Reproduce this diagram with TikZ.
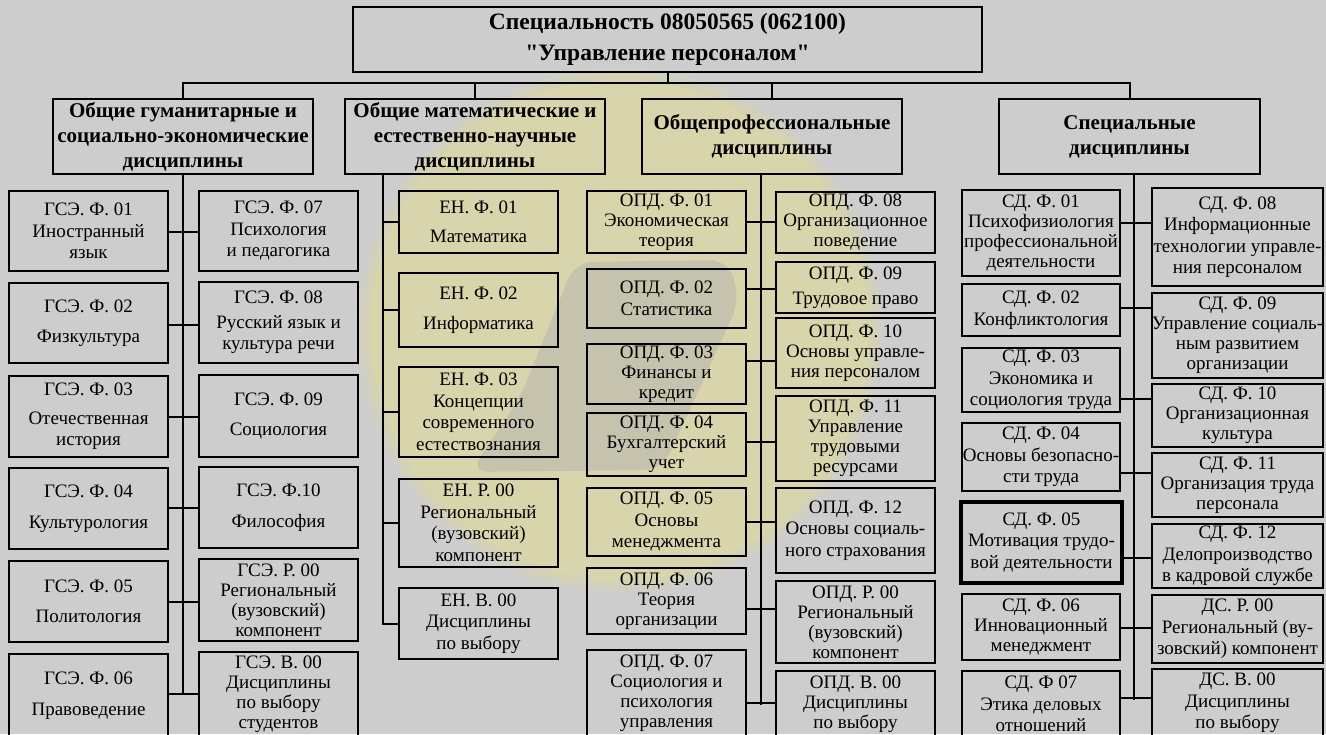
\documentclass[tikz,border=0pt]{standalone}
\usepackage{fontspec}
\setmainfont{Liberation Serif}[Ligatures=TeXOff]
\definecolor{bg}{RGB}{205,205,205}
\definecolor{logoyellow}{RGB}{216,212,172}
\definecolor{logogrey}{RGB}{176,176,176}
% box: [style]{x1}{y1}{x2}{y2}{name}{text}
\newcommand\bx[7][]{%
  \node[box,#1,minimum width={#4-#2},minimum height={#5-#3}] (#6)
    at ({(#2+#4)/2},{(#3+#5)/2}) {#7};}
% horizontal link between a left and a right box at height y
\newcommand\lnk[3]{\draw (#1.east |- 0,#3) -- (#2.west |- 0,#3);}
\begin{document}
\begin{tikzpicture}[x=1pt,y=-1pt,line width=2pt,
  box/.style={draw=black,line width=2pt,inner sep=0pt,align=center,
    font=\fontsize{19}{21.5}\selectfont},
  tight/.style={font=\fontsize{19}{20}\selectfont},
  heavy/.style={line width=4.5pt},
  cat/.style={font=\bfseries\fontsize{21}{25}\selectfont},
  head/.style={font=\bfseries\fontsize{23.5}{31}\selectfont}]

% page and faint emblem behind the chart
\fill[bg] (0,0) rectangle (1326,734);
\useasboundingbox (0,0) rectangle (1326,734);
\fill[logoyellow,opacity=.35] (620,330) circle[radius=262];
\fill[logoyellow,opacity=.6] (620,330) circle[radius=256];
\fill[logoyellow] (620,330) circle[radius=250];
\fill[logogrey,opacity=.45,rounded corners=18pt]
  (575,262) -- (728,260) -- (740,300) -- (662,470) -- (470,472) -- (520,398) -- cycle;

% title and groups
\bx[head]{353}{7}{982}{72}{title}{Специальность 08050565 (062100)\\"Управление персоналом"}
\bx[cat]{53}{99}{313}{174}{cat1}{Общие гуманитарные и\\социально-экономические\\дисциплины}
\bx[cat]{345}{99}{605}{174}{cat2}{Общие математические и\\естественно-научные\\дисциплины}
\bx[cat]{642}{99}{902}{174}{cat3}{Общепрофессиональные\\дисциплины}
\bx[cat]{999}{99}{1260}{174}{cat4}{Специальные\\дисциплины}

\coordinate (bus) at (0,83);
\draw (title.south) -- (title.south |- bus);
\draw (cat1.north) -- (cat1.north |- bus) -- (cat4.north |- bus) -- (cat4.north);
\draw (cat2.north) -- (cat2.north |- bus);
\draw (cat3.north) -- (cat3.north |- bus);

% humanities
\bx{9}{191}{168}{271}{g1}{ГСЭ. Ф. 01\\Иностранный\\язык}
\bx{9}{283}{168}{363}{g2}{ГСЭ. Ф. 02\\[9pt]Физкультура}
\bx{9}{376}{168}{457}{g3}{ГСЭ. Ф. 03\\[7pt]Отечественная\\история}
\bx{9}{468}{168}{549}{g4}{ГСЭ. Ф. 04\\[9pt]Культурология}
\bx{9}{561}{168}{642}{g5}{ГСЭ. Ф. 05\\[9pt]Политология}
\bx{9}{654}{168}{737}{g6}{ГСЭ. Ф. 06\\[9pt]Правоведение}
\bx{199}{191}{358}{271}{g7}{ГСЭ. Ф. 07\\Психология\\и педагогика}
\bx{199}{282}{358}{363}{g8}{ГСЭ. Ф. 08\\[3pt]Русский язык и\\культура речи}
\bx{199}{375}{358}{457}{g9}{ГСЭ. Ф. 09\\[9pt]Социология}
\bx{199}{467}{358}{548}{g10}{ГСЭ. Ф.10\\[9pt]Философия}
\bx[tight]{199}{559}{358}{641}{g11}{ГСЭ. Р. 00\\Региональный\\(вузовский)\\компонент}
\bx[tight]{199}{652}{358}{737}{g12}{ГСЭ. В. 00\\Дисциплины\\по выбору\\студентов}
\coordinate (c1) at (183,694);
\draw (cat1.south -| c1) -- (c1);
\lnk{g1}{g7}{232}
\lnk{g2}{g8}{325}
\lnk{g3}{g9}{417}
\lnk{g4}{g10}{508}
\lnk{g5}{g11}{602}
\lnk{g6}{g12}{694}

% mathematics and natural sciences
\bx{399}{191}{558}{253}{e1}{ЕН. Ф. 01\\[8pt]Математика}
\bx{399}{273}{558}{347}{e2}{ЕН. Ф. 02\\[8pt]Информатика}
\bx{399}{367}{558}{457}{e3}{ЕН. Ф. 03\\Концепции\\современного\\естествознания}
\bx{399}{479}{558}{567}{e4}{ЕН. Р. 00\\Региональный\\(вузовский)\\компонент}
\bx{399}{588}{558}{659}{e5}{ЕН. В. 00\\Дисциплины\\по выбору}
\coordinate (c2) at (383,625);
\draw (cat2.south -| c2) -- (c2);
\foreach \n in {e1,e2,e3,e4,e5} \draw (\n.west) -- (\n.west -| c2);

% general professional
\bx[tight]{587}{191}{746}{253}{o1}{ОПД. Ф. 01\\Экономическая\\теория}
\bx{587}{269}{746}{328}{o2}{ОПД. Ф. 02\\Статистика}
\bx[tight]{587}{344}{746}{404}{o3}{ОПД. Ф. 03\\Финансы и\\кредит}
\bx[tight]{587}{413}{746}{476}{o4}{ОПД. Ф. 04\\Бухгалтерский\\учет}
\bx{587}{488}{746}{556}{o5}{ОПД. Ф. 05\\Основы\\менеджмента}
\bx[tight]{587}{568}{746}{634}{o6}{ОПД. Ф. 06\\Теория\\организации}
\bx[tight]{587}{650}{746}{737}{o7}{ОПД. Ф. 07\\Социология и\\психология\\управления}
\bx[tight]{776}{192}{935}{253}{o8}{ОПД. Ф. 08\\Организационное\\поведение}
\bx{776}{262}{935}{313}{o9}{ОПД. Ф. 09\\[4pt]Трудовое право}
\bx[tight]{776}{318}{935}{388}{o10}{ОПД. Ф. 10\\Основы управле-\\ния персоналом}
\bx[tight]{776}{396}{935}{481}{o11}{ОПД. Ф. 11\\Управление\\трудовыми\\ресурсами}
\bx{776}{488}{935}{573}{o12}{ОПД. Ф. 12\\Основы социаль-\\ного страхования}
\bx[tight]{776}{581}{935}{663}{o13}{ОПД. Р. 00\\Региональный\\(вузовский)\\компонент}
\bx[tight]{776}{671}{935}{737}{o14}{ОПД. В. 00\\Дисциплины\\по выбору}
\coordinate (c3) at (761,705);
\draw (cat3.south -| c3) -- (c3);
\lnk{o1}{o8}{222}
\lnk{o2}{o9}{289}
\lnk{o3}{o10}{361}
\lnk{o4}{o11}{442}
\lnk{o5}{o12}{522}
\lnk{o6}{o13}{609}
\lnk{o7}{o14}{703}

% special
\bx[tight]{962}{190}{1120}{276}{s1}{СД. Ф. 01\\Психофизиология\\профессиональной\\деятельности}
\bx{962}{284}{1120}{336}{s2}{СД. Ф. 02\\Конфликтология}
\bx{962}{348}{1120}{412}{s3}{СД. Ф. 03\\Экономика и\\социология труда}
\bx{962}{423}{1120}{491}{s4}{СД. Ф. 04\\Основы безопасно-\\сти труда}
\bx[heavy]{961}{502}{1122}{583}{s5}{СД. Ф. 05\\Мотивация трудо-\\вой деятельности}
\bx[tight]{962}{594}{1120}{660}{s6}{СД. Ф. 06\\Инновационный\\менеджмент}
\bx{962}{671}{1120}{737}{s7}{СД. Ф 07\\Этика деловых\\отношений}
\bx{1152}{188}{1323}{286}{s8}{СД. Ф. 08\\Информационные\\технологии управле-\\ния персоналом}
\bx[tight]{1152}{293}{1323}{378}{s9}{СД. Ф. 09\\Управление социаль-\\ным развитием\\организации}
\bx[tight]{1152}{384}{1323}{447}{s10}{СД. Ф. 10\\Организационная\\культура}
\bx[tight]{1152}{453}{1323}{517}{s11}{СД. Ф. 11\\Организация труда\\персонала}
\bx{1152}{524}{1323}{588}{s12}{СД. Ф. 12\\Делопроизводство\\в кадровой службе}
\bx{1152}{595}{1323}{663}{s13}{ДС. Р. 00\\Региональный (ву-\\зовский) компонент}
\bx{1152}{669}{1323}{737}{s14}{ДС. В. 00\\Дисциплины\\по выбору}
\coordinate (c4) at (1134,700);
\draw (cat4.south -| c4) -- (c4);
\lnk{s1}{s8}{223}
\lnk{s2}{s9}{308}
\lnk{s3}{s10}{399}
\lnk{s4}{s11}{473}
\lnk{s5}{s12}{558}
\lnk{s6}{s13}{628}
\lnk{s7}{s14}{698}
\end{tikzpicture}
\end{document}
